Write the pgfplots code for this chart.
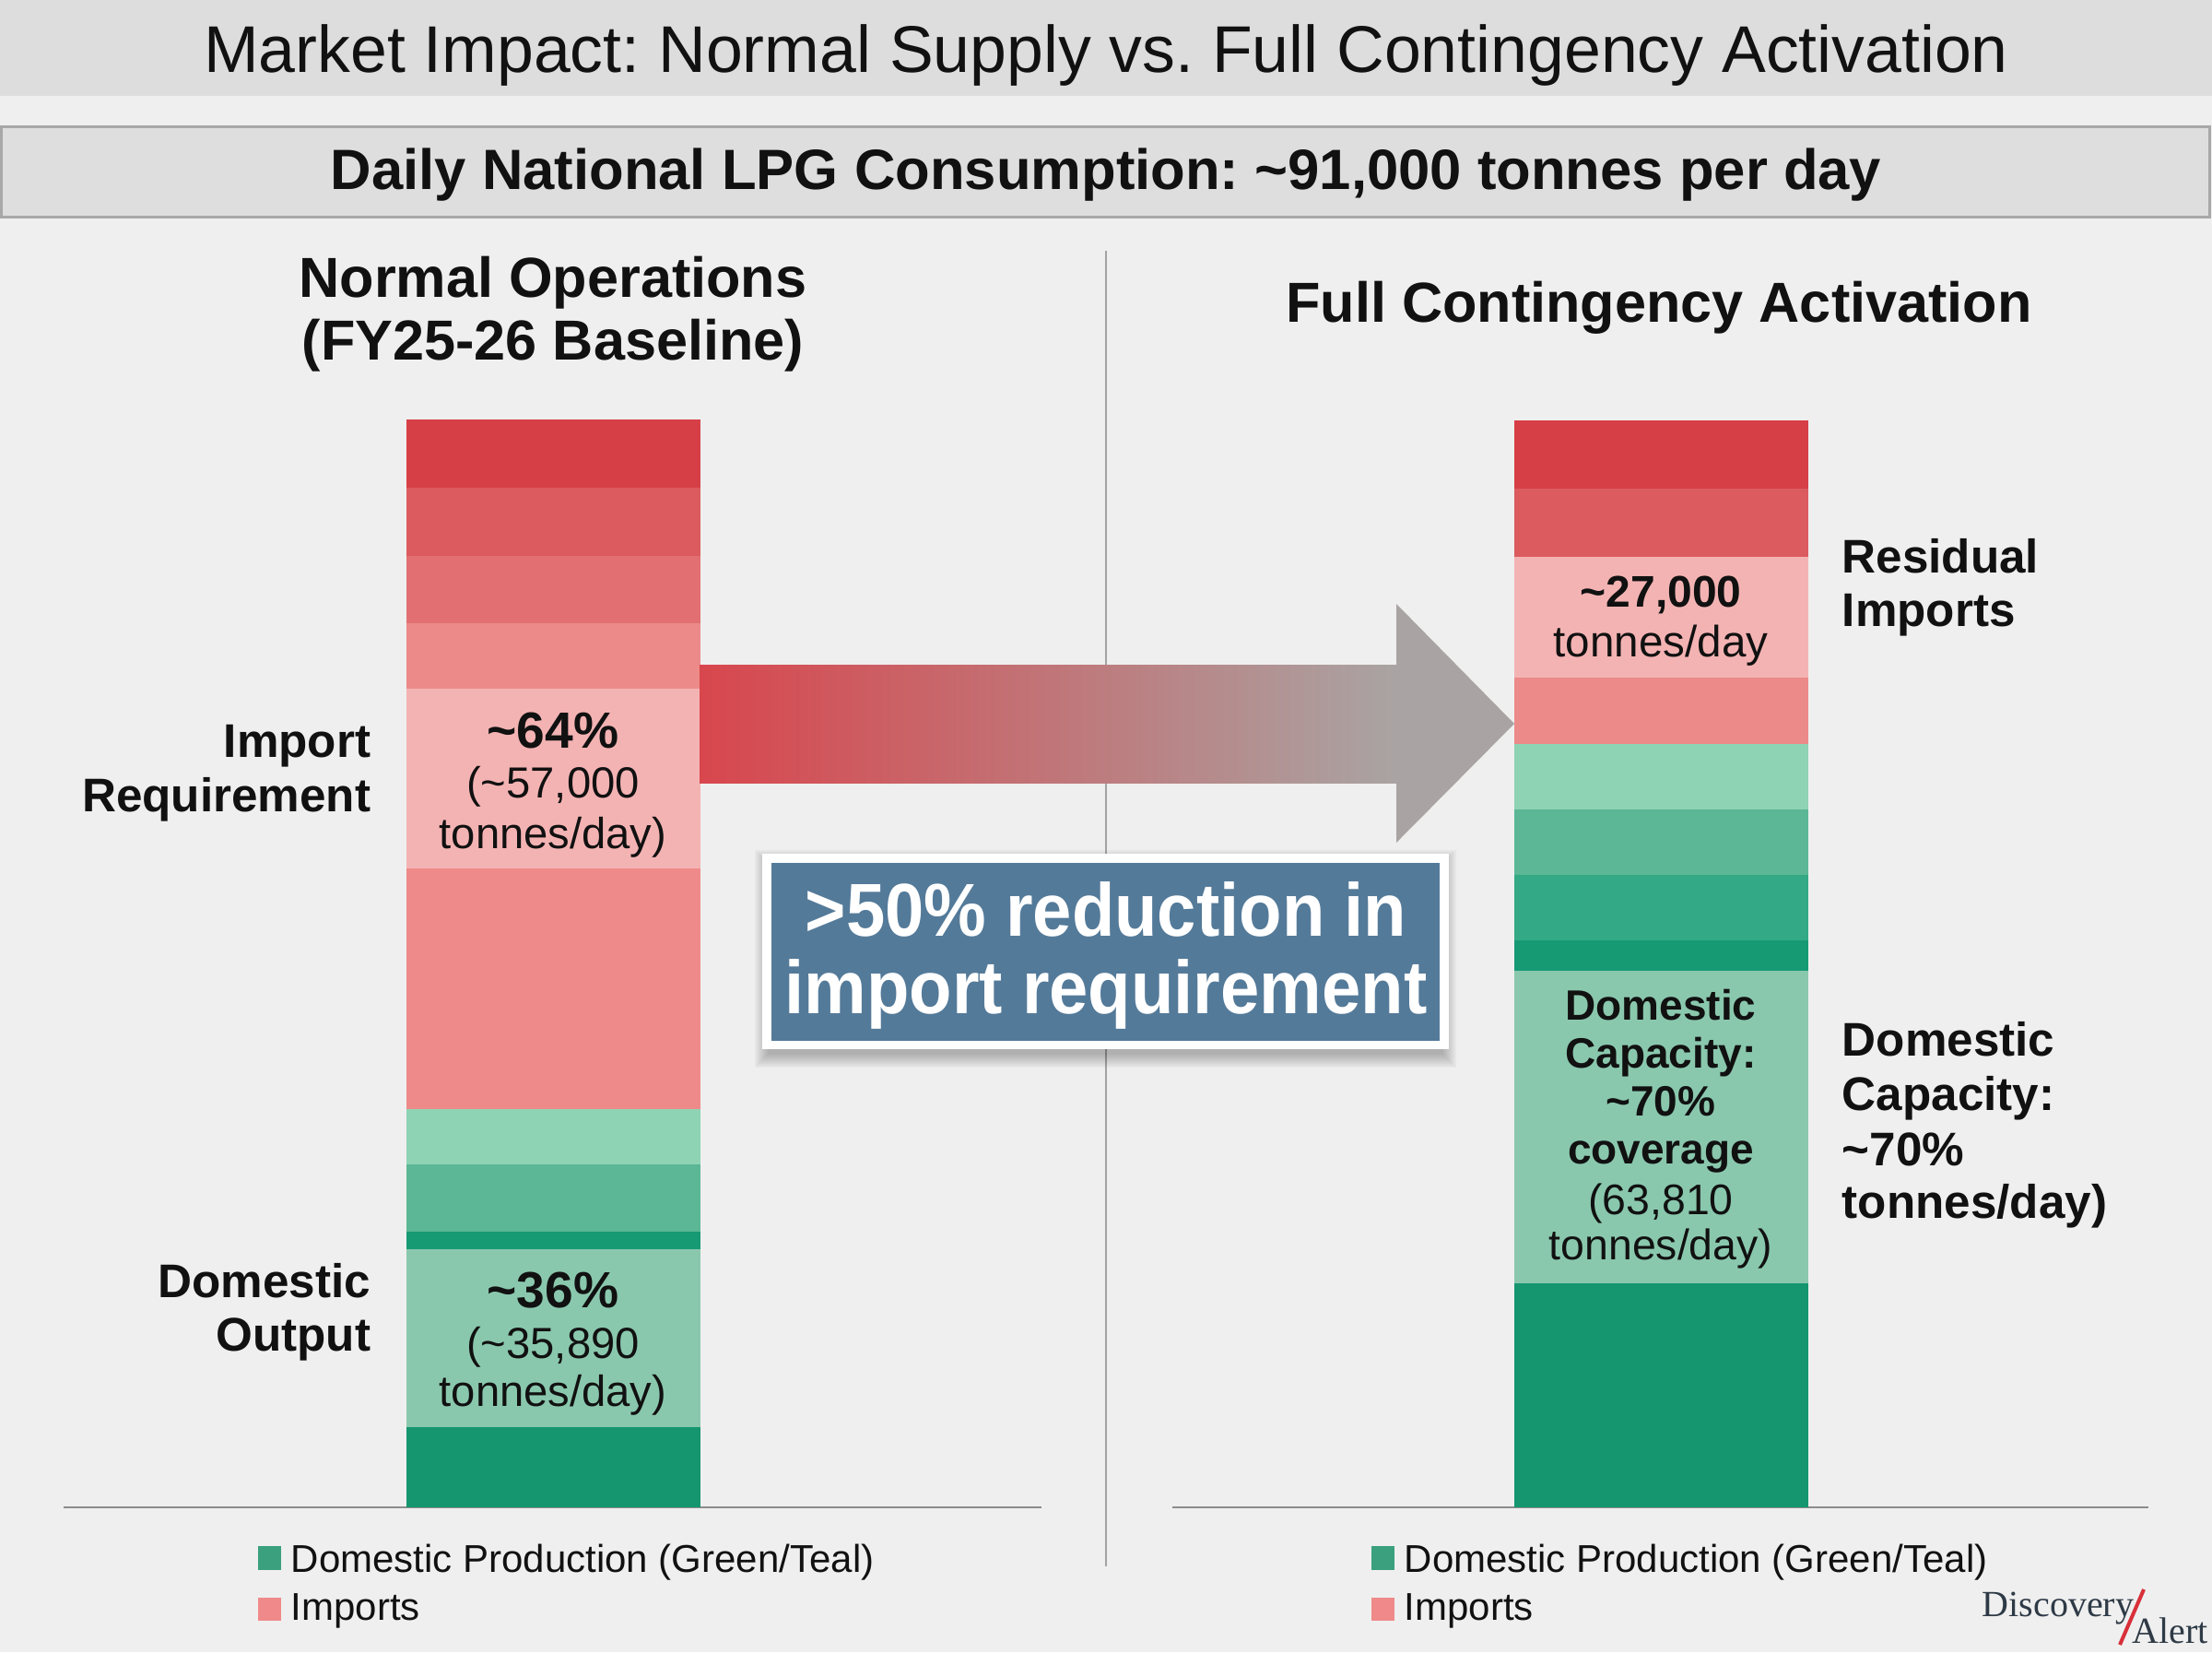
\documentclass[border=0pt]{standalone}
\usepackage{fontspec}
\setmainfont{Liberation Sans}
\newfontfamily\logofont{Liberation Serif}
\usepackage{pgfplots}
\pgfplotsset{compat=1.18}
\frenchspacing

\definecolor{bg}{HTML}{EFEFEF}
\definecolor{band}{HTML}{DDDDDD}
\definecolor{subfill}{HTML}{DEDEDE}
\definecolor{subline}{HTML}{A8A8A8}
\definecolor{linegray}{HTML}{8C8C8C}
\definecolor{ink}{HTML}{111111}
% imports (reds)
\definecolor{rA}{HTML}{D63F46}
\definecolor{rB}{HTML}{DB5B5F}
\definecolor{rC}{HTML}{E27072}
\definecolor{rD}{HTML}{EC8A8A}
\definecolor{rlab}{HTML}{F4B3B3}
\definecolor{rpink}{HTML}{EE8B8A}
% domestic (greens)
\definecolor{gA}{HTML}{8ED3B4}
\definecolor{gB}{HTML}{5BB795}
\definecolor{gC}{HTML}{33A985}
\definecolor{gstrip}{HTML}{169A74}
\definecolor{glab}{HTML}{8AC8AE}
\definecolor{teal}{HTML}{15966F}
\definecolor{arrowred}{HTML}{D8464D}
\definecolor{arrowgray}{HTML}{A9A4A3}
\definecolor{boxblue}{HTML}{547A99}
\definecolor{logoink}{HTML}{2E3A46}
\definecolor{logored}{HTML}{D8303A}
\definecolor{legG}{HTML}{3AA07E}
\definecolor{legR}{HTML}{F08A8A}

\newcommand{\fs}[2]{\fontsize{#1}{#2}\selectfont}
\newcommand{\tl}{\textasciitilde}

\pgfplotsset{
  lpgbar/.style={ybar stacked, bar width=1, xmin=-0.5, xmax=0.5,
    ymin=0, ymax=91, hide axis, scale only axis,
    width=79.5pt, height=294.5pt, anchor=south west, clip=false},
  seg/.style={fill=#1, draw=#1, line width=0.2pt},
}

\begin{document}
\begin{tikzpicture}
% frame, 1 px of the reference = 0.25pt, y downwards
\begin{scope}[x=0.25pt, y=-0.25pt]
  \fill[bg] (0,0) rectangle (2400,1792);
  \fill[band] (0,0) rectangle (2400,104);
  \filldraw[fill=subfill, draw=subline, line width=0.75pt] (1,137) rectangle (2397,235);
  \draw[linegray!80, line width=0.5pt] (1200,272) -- (1200,1699);
  \draw[linegray, line width=0.6pt] (69,1635) -- (1130,1635);
  \draw[linegray, line width=0.6pt] (1272,1635) -- (2331,1635);
\end{scope}

% Normal operations (kt/day, bottom to top)
\begin{axis}[lpgbar, at={(110.25pt,-408.5pt)}]
  \addplot[seg=teal]   coordinates {(0,6.64)};
  \addplot[seg=glab]   coordinates {(0,14.91)};
  \addplot[seg=gstrip] coordinates {(0,1.47)};
  \addplot[seg=gB]     coordinates {(0,5.64)};
  \addplot[seg=gA]     coordinates {(0,4.64)};
  \addplot[seg=rpink]  coordinates {(0,20.09)};
  \addplot[seg=rlab]   coordinates {(0,15.14)};
  \addplot[seg=rD]     coordinates {(0,5.41)};
  \addplot[seg=rC]     coordinates {(0,5.64)};
  \addplot[seg=rB]     coordinates {(0,5.72)};
  \addplot[seg=rA]     coordinates {(0,5.72)};
\end{axis}

% Full contingency activation (kt/day, bottom to top)
\begin{axis}[lpgbar, at={(410.75pt,-408.5pt)}]
  \addplot[seg=teal]   coordinates {(0,18.69)};
  \addplot[seg=glab]   coordinates {(0,26.19)};
  \addplot[seg=gstrip] coordinates {(0,2.55)};
  \addplot[seg=gC]     coordinates {(0,5.48)};
  \addplot[seg=gB]     coordinates {(0,5.48)};
  \addplot[seg=gA]     coordinates {(0,5.48)};
  \addplot[seg=rD]     coordinates {(0,5.56)};
  \addplot[seg=rlab]   coordinates {(0,10.12)};
  \addplot[seg=rB]     coordinates {(0,5.72)};
  \addplot[seg=rA]     coordinates {(0,5.72)};
\end{axis}

\begin{scope}[x=0.25pt, y=-0.25pt, every node/.style={inner sep=0pt, text=ink}]
  % arrow
  \shade[left color=arrowred, right color=arrowgray] (759,721) rectangle (1516,849);
  \fill[arrowgray] (1515,655) -- (1643,785) -- (1515,914) -- cycle;
  % callout box with a soft shadow
  \foreach \s in {2,4,...,16}
    \fill[black, opacity=0.035] (827-\s+8,926+12-\s) rectangle (1572+\s-8,1138+\s+4);
  \fill[white] (827,926) rectangle (1572,1138);
  \fill[boxblue] (837,936) rectangle (1562,1129);
  \node[anchor=base, text=white, font=\fs{19}{21}\bfseries, yscale=1.07] at (1200,1015) {>50\% reduction in};
  \node[anchor=base, text=white, font=\fs{19}{21}\bfseries, yscale=1.07] at (1200,1099) {import requirement};

  % titles
  \node[anchor=base, font=\fs{17.9}{20}] at (1200,78) {Market Impact: Normal Supply vs. Full Contingency Activation};
  \node[anchor=base, font=\fs{15.4}{18}\bfseries] at (1200,205) {Daily National LPG Consumption: \tl 91,000 tonnes per day};
  \node[anchor=base, font=\fs{15.3}{18}\bfseries] at (600,322) {Normal Operations};
  \node[anchor=base, font=\fs{15.3}{18}\bfseries] at (600,390) {(FY25-26 Baseline)};
  \node[anchor=base, font=\fs{15.3}{18}\bfseries] at (1800,349) {Full Contingency Activation};

  % left side labels
  \begin{scope}[every node/.append style={anchor=base east, font=\fs{12.8}{15}\bfseries}]
    \node at (403,821) {Import};
    \node at (403,880) {Requirement};
    \node at (403,1407) {Domestic};
    \node at (403,1465) {Output};
  \end{scope}

  % values inside the left bar
  \node[anchor=base, font=\fs{13.8}{16}\bfseries] at (600,811) {\tl 64\%};
  \node[anchor=base, font=\fs{11.8}{14}] at (600,865) {(\tl 57,000};
  \node[anchor=base, font=\fs{11.8}{14}] at (600,920) {tonnes/day)};
  \node[anchor=base, font=\fs{13.8}{16}\bfseries] at (600,1418) {\tl 36\%};
  \node[anchor=base, font=\fs{11.8}{14}] at (600,1473) {(\tl 35,890};
  \node[anchor=base, font=\fs{11.8}{14}] at (600,1525) {tonnes/day)};

  % values inside the right bar
  \node[anchor=base, font=\fs{12}{14}\bfseries] at (1802,658) {\tl 27,000};
  \node[anchor=base, font=\fs{11.9}{14}] at (1802,712) {tonnes/day};
  \begin{scope}[every node/.append style={anchor=base, font=\fs{11.5}{13}\bfseries}]
    \node at (1802,1106) {Domestic};
    \node at (1802,1158) {Capacity:};
    \node at (1802,1210) {\tl 70\%};
    \node at (1802,1262) {coverage};
  \end{scope}
  \node[anchor=base, font=\fs{11.6}{13}] at (1802,1317) {(63,810};
  \node[anchor=base, font=\fs{11.6}{13}] at (1802,1366) {tonnes/day)};

  % right side labels
  \begin{scope}[every node/.append style={anchor=base west, font=\fs{12.8}{15}\bfseries}]
    \node at (1998,621) {Residual};
    \node at (1998,679) {Imports};
    \node at (1998,1145) {Domestic};
    \node at (1998,1204) {Capacity:};
    \node at (1998,1264) {\tl 70\%};
    \node at (1998,1321) {tonnes/day)};
  \end{scope}

  % legends
  \foreach \lx in {280,1488} {
    \fill[legG] (\lx,1677) rectangle ++(25,26);
    \fill[legR] (\lx,1733) rectangle ++(25,25);
    \node[anchor=base west, font=\fs{10.5}{12}] at (\lx+35,1705) {Domestic Production (Green/Teal)};
    \node[anchor=base west, font=\fs{10.5}{12}] at (\lx+35,1757) {Imports};
  }

  % logo
  \node[anchor=base west, text=logoink, font=\fs{10}{12}\logofont] at (2150,1753) {Discovery};
  \node[anchor=base west, text=logoink, font=\fs{10}{12}\logofont] at (2313,1782) {Alert};
  \draw[logored, line width=1pt] (2300,1784) -- (2326,1724);
\end{scope}

\pgfresetboundingbox
\useasboundingbox (0,0) rectangle (600pt,-448pt);
\end{tikzpicture}
\end{document}
